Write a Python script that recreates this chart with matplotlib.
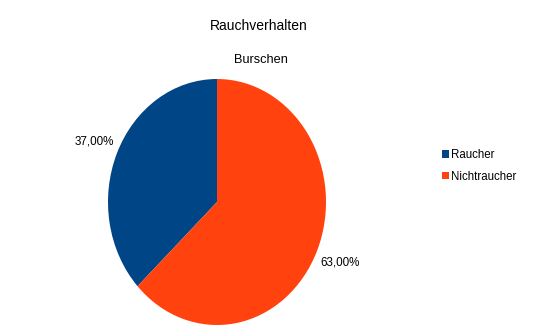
import matplotlib.pyplot as plt

plt.rcParams['font.family'] = ['Liberation Sans', 'DejaVu Sans']

labels = ['Raucher', 'Nichtraucher']
values = [37.0, 63.0]
colors = ['#004586', '#ff420e']

fig = plt.figure(figsize=(5.39, 3.32), dpi=100)
# pie area in pixels: x 108..326, y 79..325 (slightly elliptical)
ax = fig.add_axes([108 / 539, 7 / 332, 218 / 539, 246 / 332])

wedges, texts, autotexts = ax.pie(
    values, colors=colors, startangle=90, counterclock=True,
    autopct=lambda p: ('%.2f%%' % p).replace('.', ','),
    pctdistance=1.23, radius=1.0,
    textprops={'fontsize': 8.4, 'color': 'black'},
)
ax.set_xlim(-1, 1)
ax.set_ylim(-1, 1)
ax.set_aspect('auto')
ax.axis('off')

fig.text(259 / 539, 1 - 26 / 332, 'Rauchverhalten', ha='center', va='center', fontsize=10)
fig.text(261 / 539, 1 - 60 / 332, 'Burschen', ha='center', va='center', fontsize=9.2)

fig.legend(wedges, labels, loc='center left', bbox_to_anchor=(437 / 539, 1 - 166 / 332),
           frameon=False, fontsize=8.3, handlelength=0.6, handleheight=0.6,
           handletextpad=0.2, labelspacing=0.85, borderaxespad=0)

fig.savefig('out.png', dpi=100)
